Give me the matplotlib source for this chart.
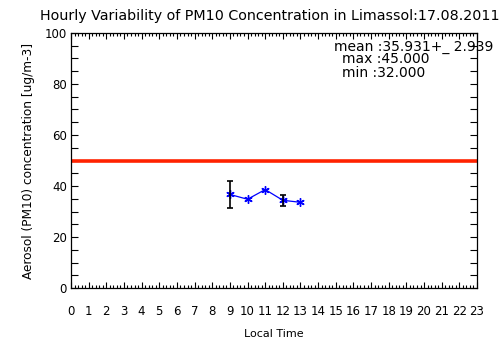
import matplotlib
matplotlib.use("Agg")
import matplotlib.pyplot as plt
from matplotlib.ticker import MultipleLocator

hours = [9, 10, 11, 12, 13]
pm10 = [36.7, 34.8, 38.6, 34.4, 33.6]
err = [5.45, 0.0, 0.0, 2.25, 0.0]
limit = 50
xticks = list(range(0, 24))
yticks = [0, 20, 40, 60, 80, 100]
title = "Hourly Variability of PM10 Concentration in Limassol:17.08.2011"
stats = ["mean :35.931+_ 2.939", "max :45.000", "min :32.000"]

plt.rcParams['font.family'] = ['DejaVu Sans']
fig = plt.figure(figsize=(5.04, 3.61), dpi=100)
ax = fig.add_axes([71/504, 1-288/361, 406/504, 255/361])

ax.axhline(limit, color='#ff2200', lw=2.6, zorder=2)
ax.plot(hours, pm10, color='blue', lw=0.9, marker=(6, 2, 0), ms=6, mew=1.0, zorder=3)
eh = [h for h, e in zip(hours, err) if e > 0]
ev = [v for v, e in zip(pm10, err) if e > 0]
ee = [e for e in err if e > 0]
ax.errorbar(eh, ev, yerr=ee, fmt='none', ecolor='black', elinewidth=1.2, capsize=2, capthick=1.2, zorder=4)

ax.set_xlim(0, 23)
ax.set_ylim(0, 100)
ax.set_xticks(xticks)
ax.set_yticks(yticks)
ax.xaxis.set_minor_locator(MultipleLocator(0.2))
ax.yaxis.set_minor_locator(MultipleLocator(5))
ax.tick_params(which='both', direction='in', top=True, right=True, width=0.8, labelsize=8.5, color='black')
ax.tick_params(axis='x', which='major', length=4, pad=12)
ax.tick_params(axis='x', which='minor', length=2)
ax.tick_params(axis='y', which='major', length=5, pad=3)
ax.tick_params(axis='y', which='minor', length=5)
for s in ax.spines.values():
    s.set_linewidth(0.9)

ax.set_xlabel("Local Time", fontsize=8, labelpad=8)
ax.set_ylabel("Aerosol (PM10) concentration [ug/m-3]", fontsize=8.7, labelpad=7)
fig.text(270/504, 1-16/361, title, fontsize=10.3, ha='center', va='center')

ax.text(0.649, 0.947, stats[0], transform=ax.transAxes, fontsize=10, va='center', ha='left', clip_on=False)
ax.text(0.668, 0.897, stats[1], transform=ax.transAxes, fontsize=10, va='center', ha='left')
ax.text(0.668, 0.844, stats[2], transform=ax.transAxes, fontsize=10, va='center', ha='left')

fig.savefig("out.png", dpi=100)
